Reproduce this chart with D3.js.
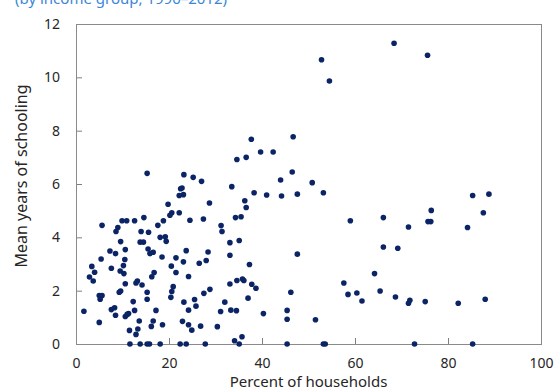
<!DOCTYPE html>
<html>
<head>
<meta charset="utf-8">
<script src="https://cdn.jsdelivr.net/npm/d3@7"></script>
<style>
  body { margin: 0; background: #fff; }
  svg { display: block; font-family: "Noto Sans", "Open Sans", sans-serif; }
</style>
</head>
<body>
<div class="d3"></div>
<script>
// percent of households (x) and mean years of schooling (y)
const pctHouseholds = [
  1.7, 2.9, 3.4, 3.7, 4.0, 5.0, 5.6, 5.2, 5.0, 5.4, 5.6, 7.3, 7.6, 7.6, 8.3, 8.5, 8.5, 8.6, 9.0, 9.3,
  9.6, 9.5, 9.6, 9.9, 10.2, 10.3, 10.5, 10.6, 10.6, 10.6, 11.0, 11.3, 10.9, 11.5, 11.6, 12.3, 12.6, 12.6, 12.9, 13.2,
  12.9, 13.3, 13.6, 13.8, 13.8, 14.5, 14.0, 14.2, 14.6, 15.3, 15.3, 15.3, 15.3, 15.8, 15.5, 16.6, 15.9, 15.6, 16.2, 16.6,
  16.8, 16.3, 17.2, 17.6, 18.1, 18.1, 18.5, 18.6, 18.8, 19.2, 19.4, 19.8, 20.6, 20.2, 20.5, 20.9, 20.6, 20.4, 21.5, 21.5,
  22.2, 22.2, 23.1, 22.5, 22.8, 23.2, 22.4, 22.9, 23.1, 23.2, 23.7, 23.7, 24.2, 24.2, 24.2, 24.5, 24.9, 25.2, 25.5, 25.8,
  26.5, 26.8, 27.0, 27.4, 27.5, 27.8, 28.0, 28.4, 28.7, 28.8, 30.4, 31.1, 31.2, 31.4, 32.0, 33.1, 33.1, 33.1, 33.3, 33.5,
  34.1, 34.3, 34.5, 34.6, 34.6, 35.1, 35.1, 35.5, 35.7, 35.8, 36.1, 36.3, 36.6, 36.6, 37.0, 37.3, 37.7, 37.8, 38.3, 38.7,
  39.7, 40.3, 41.0, 42.4, 44.0, 44.2, 45.4, 45.4, 45.4, 46.2, 46.5, 46.7, 47.6, 47.6, 50.8, 51.5, 52.8, 53.2, 53.2, 53.6,
  54.5, 57.6, 58.5, 59.0, 60.4, 61.5, 64.2, 65.4, 66.1, 66.1, 68.4, 68.7, 69.2, 71.5, 71.5, 71.8, 72.8, 75.1, 75.6, 75.7,
  76.3, 76.4, 82.2, 84.2, 85.3, 85.3, 87.6, 88.0, 88.8
];
const meanSchooling = [
  1.23, 2.51, 2.91, 2.36, 2.69, 1.82, 1.82, 1.68, 0.81, 3.19, 4.45, 3.49, 2.84, 1.29, 1.36, 1.08, 3.39, 4.22, 4.37, 1.94,
  1.99, 2.74, 3.84, 4.62, 2.94, 2.64, 3.17, 3.54, 2.26, 1.03, 1.11, 1.14, 4.62, 0.51, 0, 1.59, 1.26, 4.62, 2.29, 2.36,
  0.36, 0.56, 0.86, 0, 3.82, 3.82, 4.22, 2.21, 4.74, 6.4, 1.94, 1.68, 0, 0, 3.56, 3.44, 3.39, 4.19, 0.66, 0.86,
  2.68, 2.52, 1.26, 4.45, 4.0, 0, 3.26, 0.72, 4.62, 4.02, 3.85, 5.24, 4.92, 4.83, 2.92, 2.15, 1.97, 1.75, 3.23, 2.68,
  4.92, 5.57, 5.6, 5.82, 5.85, 6.35, 0, 0.85, 3.08, 1.57, 3.5, 0, 2.53, 1.27, 0.72, 4.64, 0.52, 6.25, 1.67, 1.42,
  3.03, 0.67, 6.1, 4.69, 1.9, 0, 3.13, 3.45, 5.29, 2.05, 0.65, 1.22, 4.44, 4.22, 1.57, 3.8, 3.33, 2.25, 1.27, 5.9,
  0.12, 4.74, 1.25, 2.38, 6.92, 3.88, 0, 4.77, 0.27, 2.44, 2.38, 5.37, 5.12, 7.0, 1.72, 2.98, 7.68, 2.24, 5.67, 2.09,
  7.2, 1.14, 5.59, 7.2, 6.15, 5.55, 1.26, 0.93, 0, 1.94, 6.45, 7.77, 5.62, 3.37, 6.05, 0.91, 10.66, 5.67, 0, 0,
  9.86, 2.29, 1.86, 4.62, 1.91, 1.61, 2.64, 1.99, 4.74, 3.64, 11.28, 1.76, 3.59, 4.39, 1.53, 1.64, 0, 1.59, 10.83, 4.59,
  4.59, 5.01, 1.53, 4.37, 5.57, 0, 4.92, 1.68, 5.62
];
const xTicks = [0, 20, 40, 60, 80, 100];
const yTicks = [0, 2, 4, 6, 8, 10, 12];

const width = 555;
const height = 390;
const margin = { top: 24, right: 14, bottom: 46, left: 76 };
const innerW = width - margin.left - margin.right;
const innerH = height - margin.top - margin.bottom;

const svg = d3.select('.d3').append('svg')
  .attr('width', width)
  .attr('height', height);

// subtitle, cut off by the top edge as in the picture
svg.append('text')
  .attr('x', 15)
  .attr('y', 4)
  .attr('fill', '#3b87d6')
  .attr('font-size', 15)
  .text('(by income group, 1990–2012)');

const g = svg.append('g').attr('transform', `translate(${margin.left},${margin.top})`);

const x = d3.scaleLinear().domain([0, 100]).range([0, innerW]);
const y = d3.scaleLinear().domain([0, 12]).range([innerH, 0]);

const xAxis = g.append('g')
  .attr('transform', `translate(0,${innerH})`)
  .call(d3.axisBottom(x).tickValues(xTicks).tickSizeInner(-6).tickSizeOuter(0).tickPadding(14));

const yAxis = g.append('g')
  .call(d3.axisLeft(y).tickValues(yTicks).tickSizeInner(-6).tickSizeOuter(0).tickPadding(16));

[xAxis, yAxis].forEach(a => {
  a.select('.domain').remove();
  a.selectAll('line').attr('stroke', '#7f7f7f');
  a.selectAll('text').attr('font-size', 14).attr('fill', '#262626').attr('font-family', '"Noto Sans", sans-serif');
});

// frame around the plot
g.append('rect')
  .attr('x', 0.5)
  .attr('y', 0.5)
  .attr('width', innerW)
  .attr('height', innerH)
  .attr('fill', 'none')
  .attr('stroke', '#8a8a8a');

g.append('g')
  .selectAll('circle')
  .data(pctHouseholds.map((v, i) => [v, meanSchooling[i]]))
  .enter()
  .append('circle')
  .attr('cx', d => x(d[0]))
  .attr('cy', d => y(d[1]))
  .attr('r', 2.8)
  .attr('fill', '#0b2466');

svg.append('text')
  .attr('x', margin.left + innerW / 2)
  .attr('y', 387)
  .attr('text-anchor', 'middle')
  .attr('font-size', 15)
  .attr('fill', '#262626')
  .text('Percent of households');

svg.append('text')
  .attr('transform', `translate(27,${margin.top + innerH / 2 - 8}) rotate(-90)`)
  .attr('text-anchor', 'middle')
  .attr('font-size', 16)
  .attr('fill', '#262626')
  .text('Mean years of schooling');
</script>
</body>
</html>
